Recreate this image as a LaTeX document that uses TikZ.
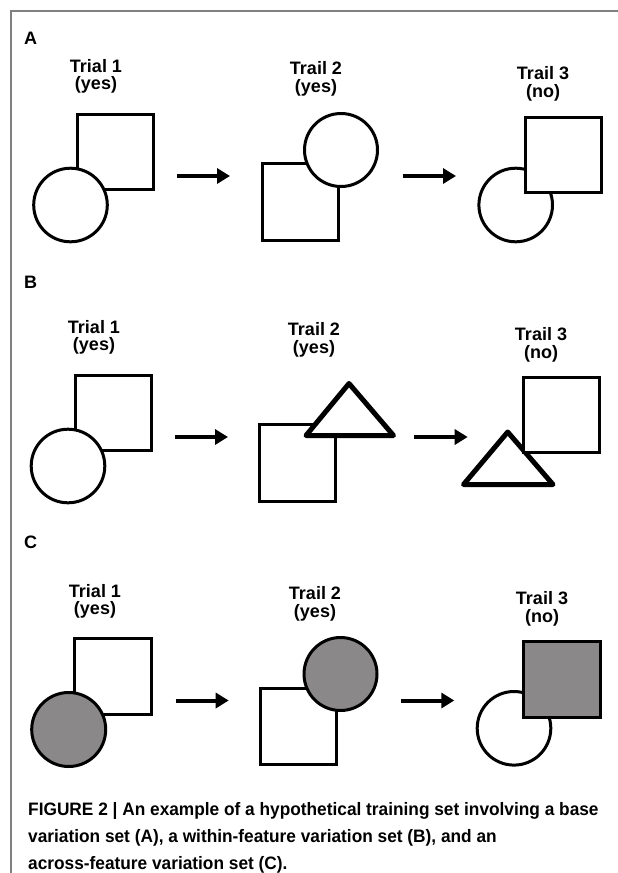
\documentclass[tikz,border=0pt]{standalone}
\usepackage{fontspec}
\setmainfont{Liberation Sans}
\newfontfamily\captionfont[FakeStretch=0.96]{Liberation Sans}
\usepackage{tikz}
\usetikzlibrary{arrows.meta}
\definecolor{FrameGrey}{HTML}{808080}
\definecolor{FillGrey}{HTML}{8A8889}

\begin{document}
\begin{tikzpicture}[x=1pt, y=-1pt,
    every node/.style={font=\bfseries\fontsize{18}{17.5}\selectfont, inner sep=0pt},
    outline/.style={draw=black, line width=3pt, fill=white},
    shaded/.style={outline, fill=FillGrey},
    wedge/.style={outline, line width=5pt, line join=round},
    flow/.style={line width=4pt, -{Triangle[length=13pt, width=15pt]}},
    headline/.style={anchor=north, align=center}]

  \useasboundingbox (0,0) rectangle (618,873);
  \draw[FrameGrey, line width=2pt] (11,873) |- (618,10.5);

  % panel letters, trial headings and arrow ends
  \foreach \lab/\ly/\dx/\dy/\ay/\xa/\xb/\xc/\xd in {
      A/44/0/0/176/176.7/230/402.7/456,
      B/288/-2/261/437/175/228/414/467.7,
      C/548/-1/525/700.5/175.7/228.7/401/454.3}{
    \node[anchor=base west] (panel\lab) at (24,\ly) {\lab};
    \node[headline] (first\lab) at (96+\dx,59+\dy) {Trial 1\\(yes)};
    \node[headline] (second\lab) at (316+\dx,61.5+\dy) {Trail 2\\(yes)};
    \node[headline] (third\lab) at (543+\dx,66.5+\dy) {Trail 3\\(no)};
    \coordinate (from\lab a) at (\xa,\ay);
    \coordinate (to\lab a) at (\xb,\ay);
    \coordinate (from\lab b) at (\xc,\ay);
    \coordinate (to\lab b) at (\xd,\ay);
    \draw[flow] (from\lab a) -- (to\lab a);
    \draw[flow] (from\lab b) -- (to\lab b);
  }

  % A: base variation
  \draw[outline] (77.2,114.2) rectangle (153.5,189.2);
  \draw[outline] (70.5,205) circle[radius=36.8];
  \draw[outline] (262.8,163.8) rectangle (338.5,240.8);
  \draw[outline] (341,150) circle[radius=36.5];
  \draw[outline] (515.7,205) circle[radius=36.8];
  \draw[outline] (525.8,117.5) rectangle (601.8,192.8);

  % B: within-feature variation
  \draw[outline] (75.2,375.2) rectangle (151.5,450.2);
  \draw[outline] (68,466) circle[radius=36.8];
  \draw[outline] (259.8,424.8) rectangle (335.8,501.2);
  \draw[wedge] (349,383.5) -- (393.5,435.5) -- (306,435.5) -- cycle;
  \draw[wedge] (507.7,432) -- (553,484.5) -- (463.5,484.5) -- cycle;
  \draw[outline] (523.2,377.5) rectangle (599.5,452.8);

  % C: across-feature variation
  \draw[outline] (74.8,638.2) rectangle (151.8,714.5);
  \draw[shaded] (68.7,729.5) circle[radius=37];
  \draw[outline] (260.8,688.8) rectangle (336.8,764.2);
  \draw[shaded] (340.5,674) circle[radius=36.5];
  \draw[outline] (514,728.3) circle[radius=36.8];
  \draw[shaded] (523.8,641.5) rectangle (600.5,717.8);

  % caption, anchored on its last line
  \node[anchor=base west, align=left,
        font=\captionfont\bfseries\fontsize{18}{27}\selectfont] (caption) at (28,869)
    {FIGURE 2 | An example of a hypothetical training set involving a base\\
     variation set (A), a within-feature variation set (B), and an\\
     across-feature variation set (C).};
\end{tikzpicture}
\end{document}
